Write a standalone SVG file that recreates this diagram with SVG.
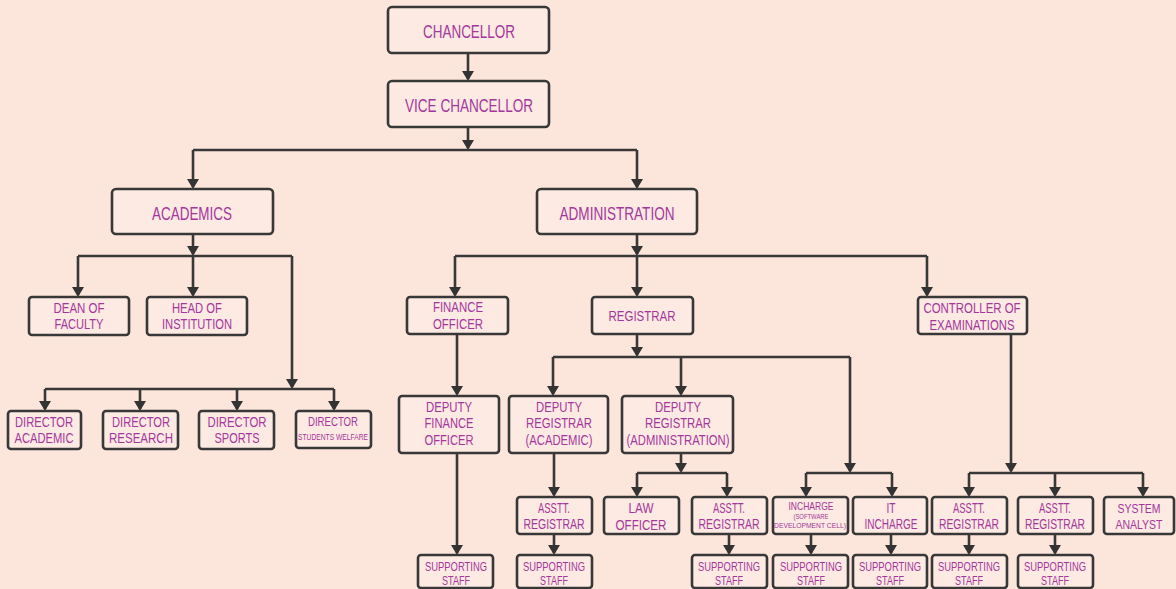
<svg xmlns="http://www.w3.org/2000/svg" width="1176" height="589" viewBox="0 0 1176 589">
<defs>
<marker id="ah" markerUnits="userSpaceOnUse" markerWidth="12" markerHeight="12" refX="8" refY="6" orient="auto">
<path d="M0,0 L10,6 L0,12 z" fill="#333"/>
</marker>
<style>
.n rect{fill:#FDEAE2;stroke:#383838;stroke-width:2.6}
.n text{fill:#A5369C;font-family:"Liberation Sans",Arial,sans-serif;text-anchor:middle}
.l{font-size:18px}.m{font-size:15px}.s{font-size:14px}.xs{font-size:13px}.xx{font-size:11px}.t{font-size:9px}.u{font-size:8px}
#conn path{fill:none;stroke:#383838;stroke-width:2.6}
#conn path.a{marker-end:url(#ah)}
</style>
</defs>
<rect width="1176" height="589" fill="#FCE5DB"/>
<g id="conn">
<path class="a" d="M468,53 V79"/>
<path class="a" d="M468,127 V148"/>
<path d="M193,150 H637"/>
<path class="a" d="M193,150 V187"/>
<path class="a" d="M637,150 V187"/>
<path class="a" d="M193,234 V254"/>
<path d="M78,256 H292"/>
<path class="a" d="M78,256 V295"/>
<path class="a" d="M193,256 V295"/>
<path class="a" d="M292,256 V387"/>
<path d="M45,389 H334"/>
<path class="a" d="M45,389 V409"/>
<path class="a" d="M140,389 V409"/>
<path class="a" d="M237,389 V409"/>
<path class="a" d="M334,389 V409"/>
<path class="a" d="M637,234 V254"/>
<path d="M455,256 H927"/>
<path class="a" d="M455,256 V295"/>
<path class="a" d="M637,256 V295"/>
<path class="a" d="M927,256 V295"/>
<path class="a" d="M457,334 V394"/>
<path class="a" d="M637,334 V355"/>
<path d="M553,357 H850"/>
<path class="a" d="M553,357 V394"/>
<path class="a" d="M681,357 V394"/>
<path class="a" d="M850,357 V471"/>
<path d="M806,473 H892"/>
<path class="a" d="M806,473 V495"/>
<path class="a" d="M892,473 V495"/>
<path class="a" d="M457,453 V553"/>
<path class="a" d="M554,453 V495"/>
<path class="a" d="M554,534 V553"/>
<path class="a" d="M681,453 V471"/>
<path d="M637,473 H727"/>
<path class="a" d="M637,473 V495"/>
<path class="a" d="M727,473 V495"/>
<path class="a" d="M729,534 V553"/>
<path class="a" d="M811,534 V553"/>
<path class="a" d="M891,534 V553"/>
<path class="a" d="M1011,334 V471"/>
<path d="M969,473 H1143"/>
<path class="a" d="M969,473 V495"/>
<path class="a" d="M1055,473 V495"/>
<path class="a" d="M1143,473 V495"/>
<path class="a" d="M969,534 V553"/>
<path class="a" d="M1055,534 V553"/>
</g>
<g id="chancellor" class="n"><rect x="388" y="7" width="161" height="46" rx="4"/><text x="469" y="38" class="l" textLength="92" lengthAdjust="spacingAndGlyphs">CHANCELLOR</text></g>
<g id="vice-chancellor" class="n"><rect x="388" y="81" width="161" height="46" rx="4"/><text x="469" y="112" class="l" textLength="128" lengthAdjust="spacingAndGlyphs">VICE CHANCELLOR</text></g>
<g id="academics" class="n"><rect x="112" y="189" width="161" height="45" rx="4"/><text x="192" y="220" class="l" textLength="80" lengthAdjust="spacingAndGlyphs">ACADEMICS</text></g>
<g id="administration" class="n"><rect x="537" y="189" width="160" height="45" rx="4"/><text x="617" y="220" class="l" textLength="115" lengthAdjust="spacingAndGlyphs">ADMINISTRATION</text></g>
<g id="dean" class="n"><rect x="29" y="297" width="100" height="38" rx="3"/><text x="79" y="313" class="m" textLength="51" lengthAdjust="spacingAndGlyphs">DEAN OF</text><text x="79" y="329" class="m" textLength="49" lengthAdjust="spacingAndGlyphs">FACULTY</text></g>
<g id="head" class="n"><rect x="147" y="297" width="100" height="38" rx="3"/><text x="197" y="313" class="m" textLength="50" lengthAdjust="spacingAndGlyphs">HEAD OF</text><text x="197" y="329" class="m" textLength="70" lengthAdjust="spacingAndGlyphs">INSTITUTION</text></g>
<g id="dir-academic" class="n"><rect x="8" y="411" width="73" height="38" rx="3"/><text x="44" y="427" class="m" textLength="58" lengthAdjust="spacingAndGlyphs">DIRECTOR</text><text x="44" y="443" class="m" textLength="59" lengthAdjust="spacingAndGlyphs">ACADEMIC</text></g>
<g id="dir-research" class="n"><rect x="103" y="411" width="75" height="38" rx="3"/><text x="141" y="427" class="m" textLength="58" lengthAdjust="spacingAndGlyphs">DIRECTOR</text><text x="141" y="443" class="m" textLength="64" lengthAdjust="spacingAndGlyphs">RESEARCH</text></g>
<g id="dir-sports" class="n"><rect x="199" y="411" width="75" height="38" rx="3"/><text x="237" y="427" class="m" textLength="59" lengthAdjust="spacingAndGlyphs">DIRECTOR</text><text x="237" y="443" class="m" textLength="45" lengthAdjust="spacingAndGlyphs">SPORTS</text></g>
<g id="dir-welfare" class="n"><rect x="296" y="411" width="75" height="37" rx="3"/><text x="333" y="426" class="xs" textLength="50" lengthAdjust="spacingAndGlyphs">DIRECTOR</text><text x="333" y="440" class="t" textLength="70" lengthAdjust="spacingAndGlyphs">STUDENTS WELFARE</text></g>
<g id="finance-officer" class="n"><rect x="407" y="297" width="101" height="37" rx="3"/><text x="458" y="312" class="m" textLength="50" lengthAdjust="spacingAndGlyphs">FINANCE</text><text x="458" y="329" class="m" textLength="50" lengthAdjust="spacingAndGlyphs">OFFICER</text></g>
<g id="registrar" class="n"><rect x="592" y="297" width="101" height="37" rx="3"/><text x="642" y="321" class="m" textLength="67" lengthAdjust="spacingAndGlyphs">REGISTRAR</text></g>
<g id="controller" class="n"><rect x="918" y="297" width="109" height="37" rx="3"/><text x="972" y="313" class="m" textLength="97" lengthAdjust="spacingAndGlyphs">CONTROLLER OF</text><text x="972" y="330" class="m" textLength="85" lengthAdjust="spacingAndGlyphs">EXAMINATIONS</text></g>
<g id="deputy-finance" class="n"><rect x="399" y="396" width="100" height="57" rx="3"/><text x="449" y="412" class="m" textLength="46" lengthAdjust="spacingAndGlyphs">DEPUTY</text><text x="449" y="428" class="m" textLength="49" lengthAdjust="spacingAndGlyphs">FINANCE</text><text x="449" y="445" class="m" textLength="49" lengthAdjust="spacingAndGlyphs">OFFICER</text></g>
<g id="deputy-reg-academic" class="n"><rect x="509" y="396" width="99" height="57" rx="3"/><text x="559" y="412" class="m" textLength="46" lengthAdjust="spacingAndGlyphs">DEPUTY</text><text x="559" y="428" class="m" textLength="66" lengthAdjust="spacingAndGlyphs">REGISTRAR</text><text x="559" y="445" class="m" textLength="67" lengthAdjust="spacingAndGlyphs">(ACADEMIC)</text></g>
<g id="deputy-reg-admin" class="n"><rect x="622" y="396" width="111" height="57" rx="3"/><text x="678" y="412" class="m" textLength="46" lengthAdjust="spacingAndGlyphs">DEPUTY</text><text x="678" y="428" class="m" textLength="66" lengthAdjust="spacingAndGlyphs">REGISTRAR</text><text x="678" y="445" class="m" textLength="103" lengthAdjust="spacingAndGlyphs">(ADMINISTRATION)</text></g>
<g id="asst-reg-1" class="n"><rect x="517" y="497" width="75" height="37" rx="3"/><text x="554" y="513" class="s" textLength="32" lengthAdjust="spacingAndGlyphs">ASSTT.</text><text x="554" y="529" class="s" textLength="61" lengthAdjust="spacingAndGlyphs">REGISTRAR</text></g>
<g id="law-officer" class="n"><rect x="604" y="497" width="75" height="37" rx="3"/><text x="641" y="513" class="m" textLength="25" lengthAdjust="spacingAndGlyphs">LAW</text><text x="641" y="530" class="m" textLength="51" lengthAdjust="spacingAndGlyphs">OFFICER</text></g>
<g id="asst-reg-2" class="n"><rect x="692" y="497" width="75" height="37" rx="3"/><text x="729" y="513" class="s" textLength="32" lengthAdjust="spacingAndGlyphs">ASSTT.</text><text x="729" y="529" class="s" textLength="61" lengthAdjust="spacingAndGlyphs">REGISTRAR</text></g>
<g id="incharge-sdc" class="n"><rect x="773" y="497" width="75" height="37" rx="3"/><text x="811" y="510" class="xx" textLength="45" lengthAdjust="spacingAndGlyphs">INCHARGE</text><text x="811" y="519" class="u" textLength="35" lengthAdjust="spacingAndGlyphs">(SOFTWARE</text><text x="810" y="528" class="u" textLength="72" lengthAdjust="spacingAndGlyphs">DEVELOPMENT CELL)</text></g>
<g id="it-incharge" class="n"><rect x="853" y="497" width="74" height="37" rx="3"/><text x="891" y="513" class="m" textLength="9" lengthAdjust="spacingAndGlyphs">IT</text><text x="891" y="529" class="m" textLength="53" lengthAdjust="spacingAndGlyphs">INCHARGE</text></g>
<g id="asst-reg-3" class="n"><rect x="932" y="497" width="75" height="37" rx="3"/><text x="969" y="513" class="s" textLength="32" lengthAdjust="spacingAndGlyphs">ASSTT.</text><text x="969" y="529" class="s" textLength="60" lengthAdjust="spacingAndGlyphs">REGISTRAR</text></g>
<g id="asst-reg-4" class="n"><rect x="1018" y="497" width="75" height="37" rx="3"/><text x="1055" y="513" class="s" textLength="32" lengthAdjust="spacingAndGlyphs">ASSTT.</text><text x="1055" y="529" class="s" textLength="60" lengthAdjust="spacingAndGlyphs">REGISTRAR</text></g>
<g id="system-analyst" class="n"><rect x="1104" y="497" width="70" height="37" rx="3"/><text x="1139" y="513" class="xs" textLength="43" lengthAdjust="spacingAndGlyphs">SYSTEM</text><text x="1139" y="529" class="xs" textLength="47" lengthAdjust="spacingAndGlyphs">ANALYST</text></g>
<g id="staff-1" class="n"><rect x="418" y="555" width="75" height="33" rx="3"/><text x="456" y="571" class="xs" textLength="62" lengthAdjust="spacingAndGlyphs">SUPPORTING</text><text x="456" y="585" class="xs" textLength="28" lengthAdjust="spacingAndGlyphs">STAFF</text></g>
<g id="staff-2" class="n"><rect x="517" y="555" width="75" height="33" rx="3"/><text x="554" y="571" class="xs" textLength="62" lengthAdjust="spacingAndGlyphs">SUPPORTING</text><text x="554" y="585" class="xs" textLength="28" lengthAdjust="spacingAndGlyphs">STAFF</text></g>
<g id="staff-3" class="n"><rect x="692" y="555" width="75" height="33" rx="3"/><text x="729" y="571" class="xs" textLength="62" lengthAdjust="spacingAndGlyphs">SUPPORTING</text><text x="729" y="585" class="xs" textLength="28" lengthAdjust="spacingAndGlyphs">STAFF</text></g>
<g id="staff-4" class="n"><rect x="773" y="555" width="75" height="33" rx="3"/><text x="811" y="571" class="xs" textLength="62" lengthAdjust="spacingAndGlyphs">SUPPORTING</text><text x="811" y="585" class="xs" textLength="28" lengthAdjust="spacingAndGlyphs">STAFF</text></g>
<g id="staff-5" class="n"><rect x="853" y="555" width="74" height="33" rx="3"/><text x="890" y="571" class="xs" textLength="62" lengthAdjust="spacingAndGlyphs">SUPPORTING</text><text x="890" y="585" class="xs" textLength="28" lengthAdjust="spacingAndGlyphs">STAFF</text></g>
<g id="staff-6" class="n"><rect x="932" y="555" width="75" height="33" rx="3"/><text x="969" y="571" class="xs" textLength="62" lengthAdjust="spacingAndGlyphs">SUPPORTING</text><text x="969" y="585" class="xs" textLength="28" lengthAdjust="spacingAndGlyphs">STAFF</text></g>
<g id="staff-7" class="n"><rect x="1018" y="555" width="75" height="33" rx="3"/><text x="1055" y="571" class="xs" textLength="62" lengthAdjust="spacingAndGlyphs">SUPPORTING</text><text x="1055" y="585" class="xs" textLength="28" lengthAdjust="spacingAndGlyphs">STAFF</text></g>
</svg>
